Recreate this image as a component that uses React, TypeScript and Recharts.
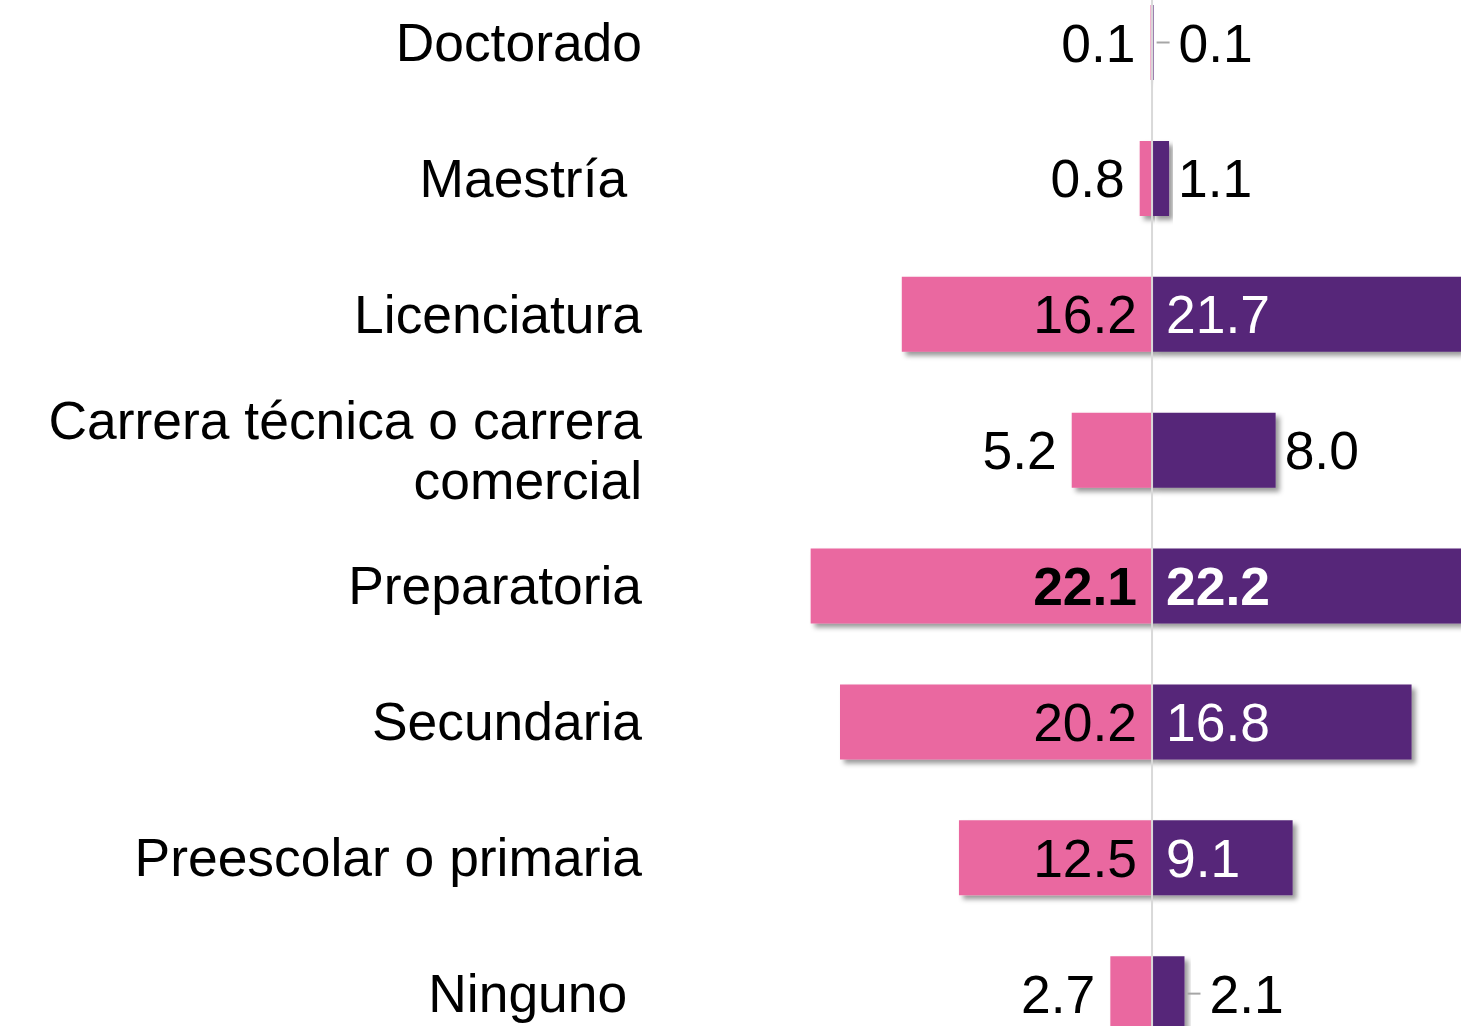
import React from 'react';
import { BarChart, Bar, XAxis, YAxis, ReferenceLine, LabelList, Rectangle } from 'recharts';

const categories = [
  'Doctorado',
  'Maestría ',
  'Licenciatura',
  'Carrera técnica o carrera comercial',
  'Preparatoria',
  'Secundaria',
  'Preescolar o primaria',
  'Ninguno ',
];
const mujeres = [0.1, 0.8, 16.2, 5.2, 22.1, 20.2, 12.5, 2.7];
const hombres = [0.1, 1.1, 21.7, 8.0, 22.2, 16.8, 9.1, 2.1];

const data = categories.map((name, i) => ({ name, mujeres: -mujeres[i], hombres: hombres[i] }));

const PINK = '#EA67A0';
const PURPLE = '#572679';
const FONT = '"Liberation Sans", Arial, Helvetica, sans-serif';
const FS = 53.4;
const LEADER_ROWS = new Set(['Doctorado', 'Ninguno ']);

function wrap(text: string, maxChars: number): string[] {
  if (text.length <= maxChars) return [text];
  const words = text.split(' ').filter((w) => w.length > 0);
  const lines: string[] = [];
  let cur = '';
  for (const w of words) {
    const cand = cur ? cur + ' ' + w : w;
    if (cand.length > maxChars && cur) {
      lines.push(cur);
      cur = w;
    } else {
      cur = cand;
    }
  }
  if (cur) lines.push(cur);
  return lines;
}

const CategoryTick = (props: any) => {
  const { x, y, payload } = props;
  const lines = wrap(String(payload.value), 25);
  const lh = 60;
  const start = -((lines.length - 1) * lh) / 2;
  return (
    <text
      x={x}
      y={y}
      textAnchor="end"
      fontFamily={FONT}
      fontSize={FS}
      fill="#000"
      xmlSpace="preserve"
      style={{ whiteSpace: 'pre' }}
    >
      {lines.map((l, i) => (
        <tspan key={i} x={x} y={y + start + i * lh + 18}>
          {l}
        </tspan>
      ))}
    </text>
  );
};

const makeLabel = (series: 'm' | 'h') => (props: any) => {
  const { x, y, width, height, index } = props;
  const vals = series === 'm' ? mujeres : hombres;
  const v = vals[index];
  if (v === undefined) return null;
  const max = Math.max(...vals);
  const left = Math.min(x, x + width);
  const right = Math.max(x, x + width);
  const ty = y + height / 2 + 19;
  const inside = v >= 9;
  const bold = v === max;
  const leader = LEADER_ROWS.has(categories[index]);
  let tx = 0;
  let anchor: 'start' | 'end' = 'start';
  let fill = '#000';
  let line: React.ReactNode = null;
  if (series === 'm') {
    anchor = 'end';
    tx = inside ? right - 15 : left - 15;
  } else {
    anchor = 'start';
    if (inside) {
      tx = left + 14;
      fill = '#fff';
    } else if (leader) {
      tx = right + 25;
      line = (
        <line x1={right + 3} x2={right + 16} y1={y + height / 2} y2={y + height / 2} stroke="#a6a6a6" strokeWidth={2} />
      );
    } else {
      tx = right + 9;
    }
  }
  return (
    <g>
      {line}
      <text x={tx} y={ty} textAnchor={anchor} fontFamily={FONT} fontSize={FS} fontWeight={bold ? 'bold' : 'normal'} fill={fill}>
        {v.toFixed(1)}
      </text>
    </g>
  );
};

const ShadowBar = (props: any) => (
  <g filter="url(#barShadow)">
    <Rectangle {...props} />
  </g>
);

export default function App() {
  return (
    <div style={{ position: 'absolute', top: 0, left: 0, width: 1461, height: 1026, overflow: 'hidden', background: '#fff' }}>
      <div style={{ position: 'absolute', top: -25, left: 0 }}>
        <BarChart
          width={1461}
          height={1087}
          data={data}
          layout="vertical"
          stackOffset="sign"
          barSize={75}
          margin={{ top: 0, right: 0, bottom: 0, left: 0 }}
        >
          <defs>
            <filter id="barShadow" x="-20%" y="-20%" width="140%" height="140%">
              <feDropShadow dx="4" dy="4" stdDeviation="2.5" floodColor="#000" floodOpacity="0.4" />
            </filter>
          </defs>
          <XAxis type="number" hide domain={[-32.5, 20]} allowDataOverflow />
          <YAxis
            type="category"
            dataKey="name"
            width={650}
            axisLine={false}
            tickLine={false}
            tickSize={0}
            tickMargin={8}
            interval={0}
            tick={<CategoryTick />}
          />
          <Bar dataKey="mujeres" stackId="a" fill={PINK} isAnimationActive={false} shape={<ShadowBar />}>
            <LabelList dataKey="mujeres" content={makeLabel('m')} />
          </Bar>
          <Bar dataKey="hombres" stackId="a" fill={PURPLE} isAnimationActive={false} shape={<ShadowBar />}>
            <LabelList dataKey="hombres" content={makeLabel('h')} />
          </Bar>
          <ReferenceLine x={0} stroke="#d9d9d9" strokeWidth={2} ifOverflow="visible" />
        </BarChart>
      </div>
    </div>
  );
}
